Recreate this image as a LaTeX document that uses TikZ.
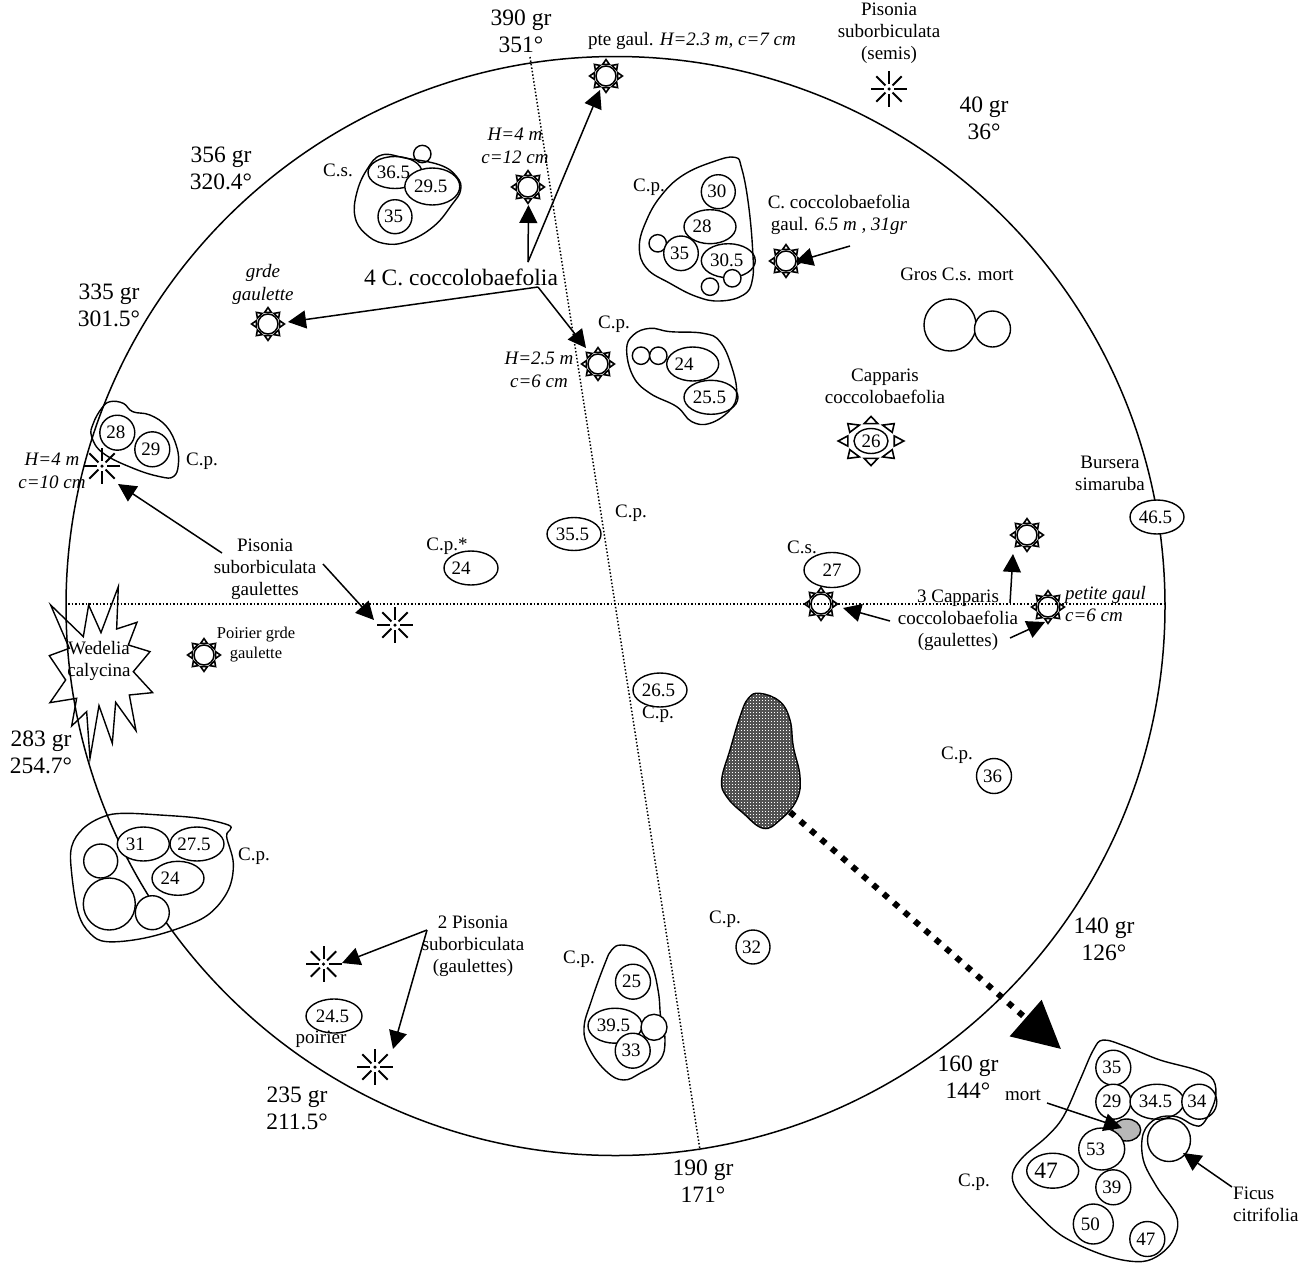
\documentclass[tikz,border=0pt]{standalone}
\usepackage{fontspec}
\setmainfont{Liberation Serif}
\usetikzlibrary{arrows.meta,shapes.geometric,patterns}
\pgfdeclarepatternformonly{finedots}{\pgfqpoint{0pt}{0pt}}{\pgfqpoint{2.6pt}{2.6pt}}{\pgfqpoint{2.6pt}{2.6pt}}{%
  \pgfpathrectangle{\pgfqpoint{0pt}{0pt}}{\pgfqpoint{1.1pt}{1.1pt}}%
  \pgfusepath{fill}}
\tikzset{
  lbl/.style={inner sep=0pt,align=center,font=\fontsize{19}{22}\selectfont},
  smalllbl/.style={inner sep=0pt,align=center,font=\fontsize{16.5}{20}\selectfont},
  biglbl/.style={inner sep=0pt,align=center,font=\fontsize{23.5}{27}\selectfont},
  itlbl/.style={lbl,font=\fontsize{19}{22.5}\selectfont\itshape},
  outline/.style={line width=1.4pt,line join=round},
  blobline/.style={outline},
  guide/.style={line width=1.5pt,dash pattern=on 1.5pt off 2pt},
  treenode/.style={ellipse,draw,fill=white,line width=1.4pt,inner sep=0pt,font=\fontsize{19}{22}\selectfont},
  ray/.style={line width=1.6pt,line join=miter},
  burstray/.style={line width=2pt},
  pointer/.style={line width=1.5pt,-{Triangle[length=18pt,width=18pt]}},
  plainlink/.style={line width=1.5pt},
  bigpointer/.style={line width=6pt,dash pattern=on 6pt off 7.8pt,-{Triangle[length=47pt,width=47pt]}}
}
\newcommand{\treeval}[6]{\node[treenode,minimum width=#4*2pt,minimum height=#5*2pt] (#1) at (#2,#3) {\makebox[0pt][c]{\kern-3pt #6}};}
\newcommand{\sunrays}[5]{%
  \begin{scope}[shift={(#2,#3)},xscale=#4,yscale=#5]
    \foreach \a in {0,45,...,315}{\draw[ray,rotate=\a] (11.6,-3.4) -- (16.4,0) -- (11.6,3.4) -- cycle;}
  \end{scope}}
\newcommand{\sunsym}[3]{\node[circle,draw,line width=1.5pt,minimum size=20pt,inner sep=0pt] (#1) at (#2,#3) {};\sunrays{#1}{#2}{#3}{1}{1}}
\newcommand{\burstsym}[3]{\node[circle,fill=black,inner sep=0pt,minimum size=3.5pt] (#1) at (#2,#3) {};
  \foreach \a in {0,45,...,315}{\draw[burstray] (#1.center) ++(\a:5) -- ++(\a:13);}}
\begin{document}
\begin{tikzpicture}[x=1pt,y=-1pt]
\useasboundingbox (0,0) rectangle (1315,1264);
\fill[white] (0,0) rectangle (1315,1264);
% main circle and guides
\node[circle,draw,line width=1.5pt,minimum size=1099pt,inner sep=0pt] (plot) at (615.5,606) {};
\coordinate (gN) at (530,57); \coordinate (gS) at (700,1150);
\coordinate (gW) at (68,604); \coordinate (gE) at (1165,604);
\draw[guide] (gN) -- (gS);
\draw[guide] (gW) -- (gE);
% blob under nodes
\draw[blobline,shift={(570,930)},scale=.3333] plot[smooth cycle,tension=.7] coordinates {(155,45)(210,60)(245,105)(265,185)(272,260)(285,330)(270,390)(210,430)(160,450)(110,425)(60,360)(42,295)(65,210)(105,100)(125,60)};
% cluster C.s.
\treeval{a1}{422.3}{154}{8.7}{8.7}{}
\treeval{a2}{395}{172.5}{27}{16}{36.5}
\treeval{a3}{432.3}{186.5}{27.5}{18.5}{29.5}
\treeval{a4}{395}{216.7}{17}{17}{35}
% cluster top right
\treeval{b1}{718.3}{191.7}{17}{17}{30}
\treeval{b2}{710}{226.7}{26}{17}{\kern-13pt 28}
\treeval{b3}{657.7}{243.3}{8.7}{8.7}{}
\treeval{b4}{681}{253.3}{17.3}{17.3}{35}
\treeval{b5}{728.3}{260.7}{27}{17}{30.5}
\treeval{b6}{732.3}{278.3}{8.7}{8.7}{}
\treeval{b7}{710}{286.7}{8.7}{8.7}{}
% cluster second
\treeval{c1}{641}{355.7}{8.7}{8.7}{}
\treeval{c2}{658.3}{355.7}{8.7}{8.7}{}
\treeval{c3}{692.7}{364}{26}{17}{\kern-14pt 24}
\treeval{c4}{711}{397.3}{27}{17}{25.5}
% cluster 28/29
\treeval{d1}{117.3}{432.7}{17.5}{17.5}{28}
\treeval{d2}{152.3}{449.3}{17.5}{17.5}{29}
% cluster 31
\treeval{e1}{143.3}{844}{26}{17}{\kern-13pt 31}
\treeval{e2}{197}{844}{27}{17}{\kern-3pt 27.5}
\treeval{e3}{178}{878.3}{26}{17}{\kern-13pt 24}
\treeval{e4}{100.7}{861}{17}{17}{}
\treeval{e5}{109.3}{904}{26}{26}{}
\treeval{e6}{152.3}{912.7}{17}{17}{}
% cluster bottom centre
\treeval{f1}{633}{981.7}{17.5}{17.5}{25}
\treeval{f2}{615}{1025.7}{27}{17.5}{39.5}
\treeval{f3}{654}{1027.3}{13}{13}{}
\treeval{f4}{632.7}{1050.7}{17.5}{17.5}{33}
% cluster bottom right
\treeval{g1}{1113.3}{1067.7}{17.5}{17.5}{35}
\treeval{g2}{1113.3}{1101.7}{17.5}{17.5}{29}
\treeval{g3}{1157}{1101.7}{27}{17.5}{34.5}
\treeval{g4}{1199.3}{1101.7}{17.5}{17.5}{\kern-2pt 34}
\node[ellipse,draw,fill=black!28,line width=1.4pt,inner sep=0pt,minimum width=28pt,minimum height=22pt] (g5) at (1126.7,1130) {};
\treeval{g6}{1101.7}{1149}{23}{21}{\kern-9pt 53}
\treeval{g7}{1052.7}{1170.7}{26}{17.5}{\kern-10pt\fontsize{23.5}{27}\selectfont 47}
\treeval{g8}{1113.3}{1187.3}{17.5}{17.5}{39}
\treeval{g9}{1093.3}{1224}{20}{20}{\kern-3pt 50}
\treeval{g10}{1147.3}{1239}{17.5}{17.5}{47}
\treeval{g11}{1169}{1140}{21.5}{21.5}{}
% single trees
\treeval{s1}{471}{568}{27}{17}{\kern-17pt 24}
\treeval{s2}{574}{534}{27}{16.5}{35.5}
\treeval{s3}{832}{570}{28}{17.5}{\kern3pt 27}
\treeval{s4}{1157}{517}{27}{17}{46.5}
\treeval{s5}{660}{690}{27}{17}{26.5}
\treeval{s6}{994}{776}{17.5}{17.5}{36}
\treeval{s7}{753}{947}{17}{17}{32}
\treeval{s8}{334}{1016}{28}{17}{24.5}
\treeval{s9}{950}{325}{26}{26}{}
\treeval{s10}{992.5}{329}{18}{18}{}
% big Capparis
\treeval{s11}{871}{441}{17}{12.5}{\kern3pt 26}
\sunrays{s11}{871}{441}{2}{1.5}
% blobs above nodes
\draw[blobline,shift={(340,130)},scale=.3333] plot[smooth cycle,tension=.7] coordinates {(125,75)(200,85)(300,105)(350,140)(362,180)(335,225)(280,290)(200,335)(130,340)(75,310)(45,260)(50,190)(80,120)};
\draw[blobline,shift={(620,140)},scale=.3333] plot[smooth cycle,tension=.7] coordinates {(345,52)(280,65)(190,105)(125,165)(80,240)(58,320)(80,385)(150,430)(230,470)(300,483)(370,465)(397,420)(398,330)(385,190)(365,85)};
\draw[blobline,shift={(620,140)},scale=.3333] plot[smooth cycle,tension=.7] coordinates {(90,565)(150,575)(250,580)(300,605)(335,680)(350,760)(330,810)(270,850)(215,845)(170,800)(90,760)(40,710)(20,630)(40,585)};
\draw[blobline,shift={(0,390)},scale=.3333] plot[smooth cycle,tension=.7] coordinates {(330,35)(370,40)(398,65)(450,75)(500,110)(530,170)(535,225)(520,260)(480,260)(400,235)(310,190)(275,140)(280,100)(305,55)};
\draw[blobline,shift={(60,790)},scale=.3333] plot[smooth cycle,tension=.6] coordinates {(190,70)(300,75)(420,85)(505,105)(510,120)(500,140)(520,220)(505,300)(450,370)(370,410)(250,445)(140,455)(90,430)(55,370)(35,250)(35,170)(70,115)(130,80)};
\draw[blobline,shift={(980,1000)},scale=.3333] plot[smooth cycle,tension=.6] coordinates {(370,120)(440,140)(540,180)(650,210)(700,240)(705,300)(670,370)(640,375)(590,350)(530,355)(490,400)(490,480)(530,560)(590,650)(580,720)(530,770)(470,785)(370,765)(250,710)(170,640)(110,570)(98,520)(130,470)(200,410)(250,350)(300,240)(340,150)};
% dark blob
\fill[black!68,shift={(700,670)},scale=.3333] plot[smooth cycle,tension=.7] coordinates {(180,70)(240,95)(270,150)(280,230)(300,320)(290,390)(240,450)(190,475)(130,430)(80,380)(65,330)(90,240)(120,140)(145,85)};
\fill[pattern=finedots,pattern color=white,shift={(700,670)},scale=.3333] plot[smooth cycle,tension=.7] coordinates {(180,70)(240,95)(270,150)(280,230)(300,320)(290,390)(240,450)(190,475)(130,430)(80,380)(65,330)(90,240)(120,140)(145,85)};
\draw[outline,shift={(700,670)},scale=.3333] plot[smooth cycle,tension=.7] coordinates {(180,70)(240,95)(270,150)(280,230)(300,320)(290,390)(240,450)(190,475)(130,430)(80,380)(65,330)(90,240)(120,140)(145,85)};
% Wedelia star
\draw[outline,line join=miter,shift={(0,390)},scale=.3333] (152,645) -- (250,740) -- (266,645) -- (303,728) -- (355,590) -- (350,717) -- (411,697) -- (385,765) -- (450,785) -- (400,845) -- (458,908) -- (388,915) -- (408,1022) -- (347,937) -- (337,1060) -- (297,947) -- (270,1105) -- (260,965) -- (215,1008) -- (230,925) -- (150,938) -- (197,870) -- (148,797) -- (208,775) -- cycle;
% symbols
\sunsym{t1}{606}{76}
\sunsym{t2}{528}{187}
\sunsym{t3}{786}{261}
\sunsym{t4}{268}{324}
\sunsym{t5}{598}{364}
\sunsym{t6}{204}{655}
\sunsym{t7}{1027}{535}
\sunsym{t8}{821}{604}
\sunsym{t9}{1048}{607}
\burstsym{p1}{889}{89}
\burstsym{p2}{102}{466}
\burstsym{p3}{395}{625}
\burstsym{p4}{323.5}{964}
\burstsym{p5}{375}{1067}
% labels
\node[biglbl] (l1) at (521,31) {390 gr\\351°};
\node[biglbl] (l2) at (984,118) {40 gr\\36°};
\node[biglbl] (l3) at (221,168) {356 gr\\320.4°};
\node[biglbl] (l4) at (109,305) {335 gr\\301.5°};
\node[biglbl] (l5) at (41,752) {283 gr\\254.7°};
\node[biglbl] (l6) at (297,1108) {235 gr\\211.5°};
\node[biglbl] (l7) at (703,1181) {190 gr\\171°};
\node[biglbl] (l8) at (968,1077) {160 gr\\144°};
\node[biglbl] (l9) at (1104,939) {140 gr\\126°};
\node[biglbl] (cap4) at (461,277) {4 C. coccolobaefolia};
\node[lbl] (m1) at (692,41) {pte gaul. \itshape H=2.3 m, c=7 cm};
\node[lbl] (m2) at (889,33) {Pisonia\\suborbiculata\\(semis)};
\node[lbl] (m3) at (338,170) {C.s.};
\node[itlbl] (m4) at (515,146) {H=4 m\\c=12 cm};
\node[lbl] (m5) at (649,187) {C.p.};
\node[lbl] (m6) at (839,215) {C. coccolobaefolia\\gaul. \itshape 6.5 m , 31gr};
\node[lbl] (m7) at (957,274) {Gros C.s. mort};
\node[itlbl] (m8) at (263,284.5) {grde\\gaulette};
\node[lbl] (m9) at (614,324) {C.p.};
\node[itlbl] (m10) at (539,370) {H=2.5 m\\c=6 cm};
\node[lbl] (m11) at (885,386) {Capparis\\coccolobaefolia};
\node[lbl] (m12) at (202,461) {C.p.};
\node[itlbl] (m13) at (52,471) {H=4 m\\c=10 cm};
\node[lbl] (m14) at (1110,473) {Bursera\\simaruba};
\node[lbl] (m15) at (631,513) {C.p.};
\node[lbl] (m16) at (447,546) {C.p.*};
\node[lbl] (m17) at (802,547) {C.s.};
\node[lbl] (m18) at (265,569) {Pisonia\\suborbiculata\\gaulettes};
\node[lbl] (m19) at (958,620) {3 Capparis\\coccolobaefolia\\(gaulettes)};
\node[itlbl,anchor=west,align=left] (m20) at (1065,604) {petite gaul\\c=6 cm};
\node[smalllbl] (m21) at (256,645) {Poirier grde\\gaulette};
\node[lbl] (m22) at (658,714) {C.p.};
\node[lbl] (m23) at (99,661) {Wedelia\\calycina};
\node[lbl] (m24) at (957,755) {C.p.};
\node[lbl] (m25) at (254,856) {C.p.};
\node[lbl] (m26) at (473,946) {2 Pisonia\\suborbiculata\\(gaulettes)};
\node[lbl] (m27) at (725,919) {C.p.};
\node[lbl] (m28) at (579,959) {C.p.};
\node[lbl] (m29) at (321,1039) {poirier};
\node[lbl] (m30) at (1023,1095) {mort};
\node[lbl] (m31) at (974,1182) {C.p.};
\node[lbl,anchor=west,align=left] (m32) at (1233,1204) {Ficus\\citrifolia};
% connector anchor points
\coordinate (c4a) at (528,262); \coordinate (c4b) at (538,287);
\coordinate (t2h) at (528.5,205); \coordinate (t1h) at (600,90);
\coordinate (t4h) at (288,322); \coordinate (t5h) at (586,348);
\coordinate (m6t) at (850,246); \coordinate (t3h) at (795,262);
\coordinate (m18a) at (222,553); \coordinate (p2h) at (118,484);
\coordinate (m18b) at (323,564); \coordinate (p3h) at (374,620);
\coordinate (m19a) at (1010,603); \coordinate (t7h) at (1013,554);
\coordinate (m19b) at (890,621); \coordinate (t8h) at (843,608);
\coordinate (m19c) at (1010,638); \coordinate (t9h) at (1045,622);
\coordinate (blobS) at (790,812); \coordinate (clusterN) at (1061,1049);
\coordinate (m30a) at (1047,1103); \coordinate (g5h) at (1122,1128);
\coordinate (m32a) at (1232,1187); \coordinate (g11h) at (1183,1153);
\coordinate (m26a) at (427,930); \coordinate (p4h) at (342,963); \coordinate (p5h) at (393,1049);
% connectors
\draw[pointer] (c4a) -- (t2h);
\draw[pointer] (c4a) -- (t1h);
\draw[pointer] (c4b) -- (t4h);
\draw[pointer] (c4b) -- (t5h);
\draw[pointer] (m6t) -- (t3h);
\draw[pointer] (m18a) -- (p2h);
\draw[pointer] (m18b) -- (p3h);
\draw[pointer] (m19a) -- (t7h);
\draw[pointer] (m19b) -- (t8h);
\draw[pointer] (m19c) -- (t9h);
\draw[pointer] (m30a) -- (g5h);
\draw[pointer] (m32a) -- (g11h);
\draw[pointer] (m26a) -- (p4h);
\draw[pointer] (m26a) -- (p5h);
\draw[bigpointer] (blobS) -- (clusterN);
\end{tikzpicture}
\end{document}
